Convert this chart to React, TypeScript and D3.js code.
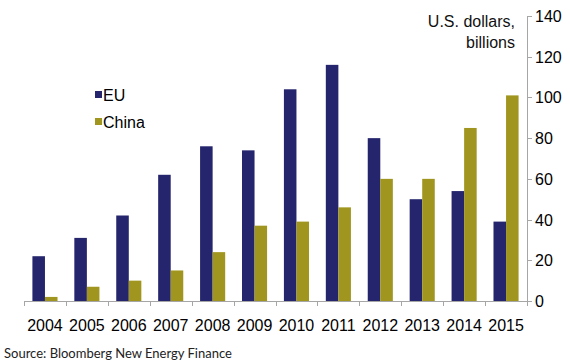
import React, { useEffect, useRef } from 'react';
import * as d3 from 'd3';

const years = ['2004', '2005', '2006', '2007', '2008', '2009', '2010', '2011', '2012', '2013', '2014', '2015'];
const euValues = [22, 31, 42, 62, 76, 74, 104, 116, 80, 50, 54, 39];
const chinaValues = [2, 7, 10, 15, 24, 37, 39, 46, 60, 60, 85, 101];
const seriesNames = ['EU', 'China'];
const yTicks = [0, 20, 40, 60, 80, 100, 120, 140];

const colors = ['#25256e', '#a0961f'];

const App = () => {
  const ref = useRef<SVGSVGElement>(null);

  useEffect(() => {
    const svg = d3.select(ref.current);
    svg.selectAll('*').remove();

    const left = 24;
    const right = 527;
    const top = 16;
    const bottom = 301;
    const font = '"Liberation Sans", Arial, sans-serif';

    const x = d3.scaleBand().domain(years).range([left, right]);
    const inner = d3.scaleBand().domain(seriesNames).range([0, x.bandwidth()]).paddingOuter(0.67);
    const y = d3.scaleLinear().domain([0, 140]).range([bottom, top]);

    const series = [euValues, chinaValues];

    // bars
    series.forEach((vals, si) => {
      svg
        .append('g')
        .selectAll('rect')
        .data(vals)
        .enter()
        .append('rect')
        .attr('x', (d, i) => (x(years[i]) as number) + (inner(seriesNames[si]) as number))
        .attr('y', (d) => y(d))
        .attr('width', inner.bandwidth())
        .attr('height', (d) => bottom - y(d))
        .attr('fill', colors[si]);
    });

    // x axis
    const xg = svg.append('g');
    xg.append('line')
      .attr('x1', left).attr('x2', right)
      .attr('y1', bottom + 0.5).attr('y2', bottom + 0.5)
      .attr('stroke', '#a6a6a6');
    const edges = years.map((d) => x(d) as number).concat([right]);
    xg.selectAll('.xt')
      .data(edges)
      .enter()
      .append('line')
      .attr('x1', (d) => Math.round(d) + 0.5).attr('x2', (d) => Math.round(d) + 0.5)
      .attr('y1', bottom).attr('y2', bottom + 5)
      .attr('stroke', '#a6a6a6');
    xg.selectAll('text')
      .data(years)
      .enter()
      .append('text')
      .attr('x', (d) => (x(d) as number) + x.bandwidth() / 2)
      .attr('y', 331)
      .attr('text-anchor', 'middle')
      .style('font-family', font)
      .style('font-size', '16px')
      .attr('fill', '#000')
      .text((d) => d);

    // y axis (right)
    const yg = svg.append('g');
    yg.append('line')
      .attr('x1', right + 0.5).attr('x2', right + 0.5)
      .attr('y1', top).attr('y2', bottom)
      .attr('stroke', '#a6a6a6');
    yg.selectAll('.yt')
      .data(yTicks)
      .enter()
      .append('line')
      .attr('x1', right).attr('x2', right + 5)
      .attr('y1', (d) => Math.round(y(d)) + 0.5).attr('y2', (d) => Math.round(y(d)) + 0.5)
      .attr('stroke', '#a6a6a6');
    yg.selectAll('text')
      .data(yTicks)
      .enter()
      .append('text')
      .attr('x', 535)
      .attr('y', (d) => y(d) + 6)
      .style('font-family', font)
      .style('font-size', '16px')
      .attr('fill', '#000')
      .text((d) => d);

    // axis title
    const title = svg.append('text')
      .attr('text-anchor', 'end')
      .style('font-family', font)
      .style('font-size', '16px')
      .attr('fill', '#111');
    title.append('tspan').attr('x', 515).attr('y', 27).text('U.S. dollars,');
    title.append('tspan').attr('x', 515).attr('y', 48).text('billions');

    // legend
    const lg = svg.append('g');
    seriesNames.forEach((name, i) => {
      lg.append('rect')
        .attr('x', 95).attr('y', 91 + i * 27)
        .attr('width', 7).attr('height', 7)
        .attr('fill', colors[i]);
      lg.append('text')
        .attr('x', 103).attr('y', 101 + i * 27)
        .style('font-family', font)
        .style('font-size', '16px')
        .attr('fill', '#000')
        .text(name);
    });

    // source
    svg.append('text')
      .attr('x', 4).attr('y', 358)
      .style('font-family', 'Lato, "Open Sans", sans-serif')
      .style('font-size', '13px')
      .attr('fill', '#222')
      .text('Source: Bloomberg New Energy Finance');
  }, []);

  return (
    <svg
      ref={ref}
      width={570}
      height={364}
      style={{ position: 'absolute', left: 0, top: 0, background: '#fff' }}
    />
  );
};

export default App;
